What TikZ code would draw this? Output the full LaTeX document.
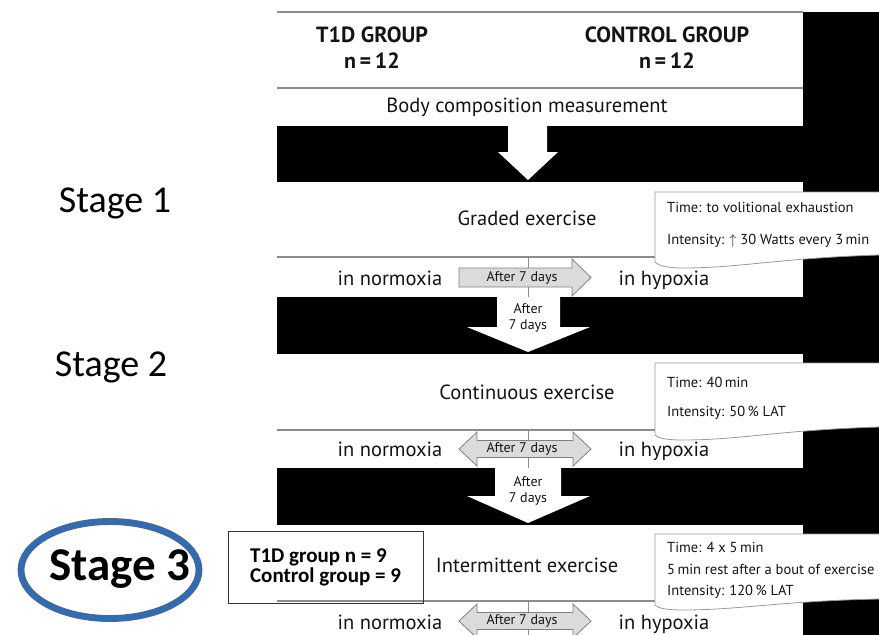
\documentclass[tikz,border=0pt]{standalone}
\usepackage{fontspec}
\setmainfont{PT Sans}
\newfontfamily\calibri{Carlito}
\usetikzlibrary{shapes,positioning,calc}
\colorlet{linegray}{gray!90}
\colorlet{arrowgray}{gray!28}
\definecolor{stageblue}{RGB}{46,108,184}

\begin{document}
\begin{tikzpicture}[x=1pt, y=-1pt,
  rowtext/.style={font=\fontsize{20.5}{24}\selectfont, text=black!92, inner sep=0pt, text height=15pt, text depth=4pt},
  headtext/.style={rowtext, font=\fontsize{22}{24}\selectfont\bfseries},
  smalltext/.style={font=\fontsize{14}{16}\selectfont, text=black!92, inner sep=0pt, align=center},
  infotext/.style={font=\fontsize{14.5}{16}\selectfont, text=black!92, inner sep=0pt, anchor=west},
  stagetext/.style={font=\calibri\fontsize{38}{44}\selectfont, inner sep=0pt},
  sepline/.style={draw=linegray, line width=1.6pt},
  band/.style={fill=black},
  whitearrow/.style={fill=white},
  grayarrow/.style={draw=gray, fill=arrowgray, line width=0.8pt},
  callout/.style={draw=gray!80, fill=white, line width=0.8pt}]

\useasboundingbox (0,0) rectangle (879,635);
\clip (0,0) rectangle (879,635);

% BANDS

\fill[band] (803,12) rectangle (890,640);
\fill[band] (277,126) rectangle (803,182);
\fill[band] (277,297) rectangle (803,354);
\fill[band] (277,468) rectangle (803,525);

\draw[sepline] (277,12) -- (803,12);
\draw[sepline] (277,88) -- (803,88);
\draw[sepline] (277,257) -- (803,257);
\draw[sepline] (277,430) -- (803,430);
\draw[sepline] (277,601) -- (803,601);

\draw[sepline, line width=1pt] (528,257) -- (528,297);
\draw[sepline, line width=1pt] (528,430) -- (528,468);
\draw[sepline, line width=1pt] (528,601) -- (528,640);

% ARROWS

\fill[whitearrow] (508,126) -- (508,152) -- (498,152) -- (528,180) -- (558,152) -- (547,152) -- (547,126) -- cycle;
\fill[whitearrow] (497,297) -- (497,327) -- (467,327) -- (528,352) -- (590,327) -- (560,327) -- (560,297) -- cycle;
\fill[whitearrow] (495,468) -- (495,496) -- (467,496) -- (528,523) -- (590,496) -- (561,496) -- (561,468) -- cycle;

\filldraw[grayarrow] (459,268) -- (572,268) -- (572,259) -- (591,277.5) -- (572,296) -- (572,287) -- (459,287) -- cycle;
\filldraw[grayarrow] (459,449) -- (477,432) -- (477,440.5) -- (573,440.5) -- (573,432) -- (591,449) -- (573,466) -- (573,457.5) -- (477,457.5) -- (477,466) -- cycle;
\filldraw[grayarrow] (459,621) -- (477,604) -- (477,612.5) -- (573,612.5) -- (573,604) -- (591,621) -- (573,638) -- (573,629.5) -- (477,629.5) -- (477,638) -- cycle;

% CALLOUTS

\filldraw[callout] (655,192) -- (890,192) -- (890,255) -- (879,255) .. controls (780,258) and (740,268) .. (683,268) .. controls (665,268) and (658,265) .. (655,262) -- cycle;
\filldraw[callout] (655,363) -- (890,363) -- (890,427) -- (879,427) .. controls (780,430) and (740,440) .. (683,440) .. controls (665,440) and (658,438) .. (655,435) -- cycle;
\filldraw[callout] (655,534) -- (890,534) -- (890,599) -- (879,599) .. controls (780,601) and (740,610) .. (683,610) .. controls (665,610) and (658,608) .. (655,605) -- cycle;

% TEXTS

\node[headtext] (t1d-title) at (372,37) {T1D GROUP};
\node[headtext, below=7pt of t1d-title] (t1d-n) {n\,=\,12};
\node[headtext] (control-title) at (667,37) {CONTROL GROUP};
\node[headtext, below=7pt of control-title] (control-n) {n\,=\,12};

\node[rowtext] (body) at (527,107) {Body composition measurement};

\node[rowtext] (graded) at (527,220) {Graded exercise};
\node[rowtext] (normoxia-1) at (390,280) {in normoxia};
\node[rowtext] (hypoxia-1) at (664,280) {in hypoxia};

\node[rowtext] (continuous) at (527,394) {Continuous exercise};
\node[rowtext] (normoxia-2) at (390,451) {in normoxia};
\node[rowtext] (hypoxia-2) at (664,451) {in hypoxia};

\node[rowtext] (intermittent) at (527,567) {Intermittent exercise};
\node[rowtext] (normoxia-3) at (390,624) {in normoxia};
\node[rowtext] (hypoxia-3) at (664,624) {in hypoxia};

\node[smalltext] (after-1) at (522,277.5) {After 7 days};
\node[smalltext] (after-2) at (522,449) {After 7 days};
\node[smalltext] (after-3) at (522,621) {After 7 days};
\node[smalltext] (after-band-2) at (528,318) {After\\7 days};
\node[smalltext] (after-band-3) at (528,491) {After\\7 days};

\node[infotext] (graded-time) at (667,207) {Time: to volitional exhaustion};
\node[infotext] (graded-intensity) at (667,241) {Intensity: $\uparrow$ 30 Watts every 3\,min};
\node[infotext] (continuous-time) at (667,382) {Time: 40\,min};
\node[infotext] (continuous-intensity) at (667,413) {Intensity: 50\,\% LAT};
\node[infotext] (intermittent-time) at (667,547) {Time: 4 x 5\,min};
\node[infotext] (intermittent-rest) at (667,569) {5\,min rest after a bout of exercise};
\node[infotext] (intermittent-intensity) at (667,592) {Intensity: 120\,\% LAT};

% STAGES

\node[stagetext] (stage-1) at (115,203) {Stage 1};
\node[stagetext] (stage-2) at (111,367) {Stage 2};
\node[ellipse, draw=black!60, double=stageblue, double distance=5.5pt, line width=0.7pt, minimum width=178pt, minimum height=97pt, inner sep=0pt] (stage-3-ring) at (110,570) {};
\node[stagetext, font=\calibri\bfseries\fontsize{47}{50}\selectfont] (stage-3) at (120,569) {Stage 3};

\node[draw=black!80, line width=0.8pt, minimum width=195pt, minimum height=72pt, align=left, inner sep=0pt, font=\calibri\bfseries\fontsize{21}{20}\selectfont] (stage-3-groups) at (325.5,567) {T1D group n = 9\\Control group = 9};

\end{tikzpicture}
\end{document}
